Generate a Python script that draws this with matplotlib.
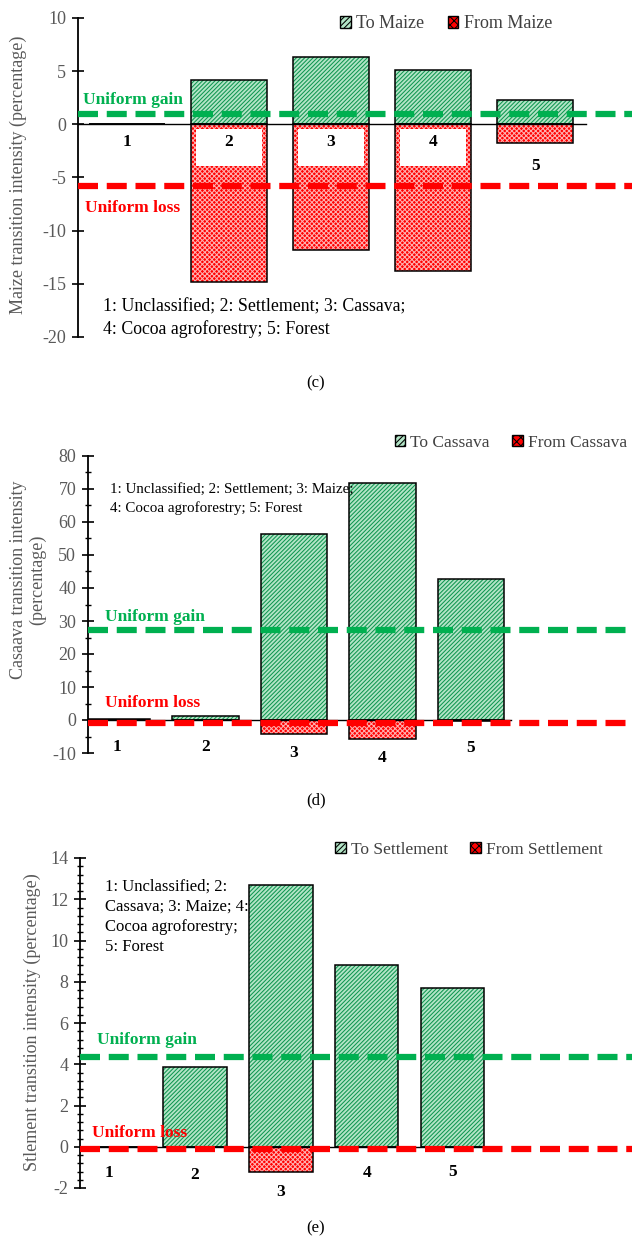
import matplotlib
matplotlib.use("Agg")
import matplotlib.pyplot as plt
from matplotlib.patches import Patch
import numpy as np

plt.rcParams['font.family'] = ['Liberation Serif', 'DejaVu Serif']
plt.rcParams['hatch.linewidth'] = 0.75

# ---------------- data ----------------
categories = ["1", "2", "3", "4", "5"]

maize_to = [0, 4.2, 6.3, 5.1, 2.3]
maize_from = [0, -14.8, -11.8, -13.8, -1.8]
maize_gain = 1.0
maize_loss = -5.8

cassava_to = [0.2, 1.3, 56.5, 71.8, 42.8]
cassava_from = [0, 0, -4.2, -5.8, -0.4]
cassava_gain = 27.4
cassava_loss = -1.0

settle_to = [0, 3.85, 12.7, 8.8, 7.7]
settle_from = [0, 0, -1.2, 0, 0]
settle_gain = 4.35
settle_loss = -0.1

c_ticks = [-20, -15, -10, -5, 0, 5, 10]
d_ticks = [-10, 0, 10, 20, 30, 40, 50, 60, 70, 80]
e_ticks = [-2, 0, 2, 4, 6, 8, 10, 12, 14]

# ---------------- style ----------------
W, H = 632, 1241
GREEN_FACE = '#b3e5c7'
GREEN_HATCH = '#0f9650'
RED_FACE = '#ff0000'
RED_HATCH = '#ffb0b0'
LINE_GREEN = '#00b050'
LINE_RED = '#ff0000'
GRAY = '#595959'
G_HATCH = '////////'
R_HATCH = 'xxxxxxx'

fig = plt.figure(figsize=(W / 100, H / 100), dpi=100)


def add_ax(l, r, t, b):
    return fig.add_axes([l / W, 1 - b / H, (r - l) / W, (b - t) / H])


def fx(px):
    return px / W


def fy(py):
    return 1 - py / H


def hatched_bars(ax, x, vals, width, face, hatch_col, hatch):
    ax.bar(x, vals, width=width, color=face, edgecolor=hatch_col, hatch=hatch,
           linewidth=0, zorder=2)
    ax.bar(x, vals, width=width, facecolor='none', edgecolor='black',
           linewidth=1.1, zorder=4)


def panel(ax, to_vals, from_vals, gain, loss, xlim, ylim, ticks, minor,
          width, zero_end, lab_y, boxes=None):
    x = np.arange(1, len(categories) + 1)
    hatched_bars(ax, x, to_vals, width, GREEN_FACE, GREEN_HATCH, G_HATCH)
    hatched_bars(ax, x, from_vals, width, RED_FACE, RED_HATCH, R_HATCH)
    if boxes is not None:
        bx, btop, bh, bw = boxes
        ax.bar(bx, bh, bottom=btop, width=bw, color='white', linewidth=0, zorder=5)
    ax.plot([xlim[0], zero_end], [0, 0], color='black', lw=1.0, zorder=3)
    ax.axhline(gain, color=LINE_GREEN, lw=4.5, ls=(0, (3.2, 1.4)), zorder=6)
    ax.axhline(loss, color=LINE_RED, lw=4.5, ls=(0, (3.2, 1.4)), zorder=6)
    for xi, c, ly in zip(x, categories, lab_y):
        ax.text(xi, ly, c, ha='center', va='center', fontsize=12.5,
                fontweight='bold', zorder=7)
    ax.set_xlim(*xlim)
    ax.set_ylim(*ylim)
    ax.set_yticks(ticks)
    ax.set_yticklabels([str(t) for t in ticks])
    if minor:
        ax.set_yticks(np.arange(ylim[0], ylim[1] + 1e-9, minor), minor=True)
        ax.tick_params(axis='y', which='minor', direction='inout', length=5,
                       width=1.0)
    ax.tick_params(axis='y', which='major', direction='inout', length=9,
                   width=1.2, labelsize=13, labelcolor=GRAY, pad=4)
    ax.set_xticks([])
    for s in ['top', 'right', 'bottom']:
        ax.spines[s].set_visible(False)
    ax.spines['left'].set_linewidth(1.3)
    ax.patch.set_alpha(0)


def legend(handles_labels, cx, cy, fs=13):
    hs = [Patch(facecolor=GREEN_FACE, edgecolor='black', hatch='//////'),
          Patch(facecolor=RED_FACE, edgecolor='black', hatch='xxxx')]
    leg = fig.legend(hs, handles_labels, loc='center',
                     bbox_to_anchor=(fx(cx), fy(cy)), ncol=2, frameon=False,
                     handlelength=0.6, handleheight=0.6, handletextpad=0.3,
                     columnspacing=1.3, fontsize=fs)
    for t in leg.get_texts():
        t.set_color('#404040')


# ---------------- panel (c) ----------------
axc = add_ax(78, 632, 18, 337)
panel(axc, maize_to, maize_from, maize_gain, maize_loss,
      xlim=(0.52, 5.95), ylim=(-20, 10), ticks=c_ticks, minor=None,
      width=0.74, zero_end=5.5,
      lab_y=[-1.7, -1.7, -1.7, -1.7, -3.9],
      boxes=([2, 3, 4], -0.4, -3.5, 0.64))
legend(['To Maize', 'From Maize'], 446, 24)
fig.text(fx(83), fy(100), 'Uniform gain', color=LINE_GREEN, fontsize=12.5,
         fontweight='bold', va='center', ha='left')
fig.text(fx(85), fy(208), 'Uniform loss', color=LINE_RED, fontsize=12.5,
         fontweight='bold', va='center', ha='left')
fig.text(fx(103), fy(318), '1: Unclassified; 2: Settlement; 3: Cassava;\n'
         '4: Cocoa agroforestry; 5: Forest', fontsize=12.8, va='center',
         ha='left', linespacing=1.3)
fig.text(fx(18), fy(175), 'Maize transition intensity (percentage)',
         rotation=90, color=GRAY, fontsize=13, ha='center', va='center')
fig.text(fx(316), fy(383), '(c)', fontsize=12, ha='center', va='center')

# ---------------- panel (d) ----------------
axd = add_ax(88, 632, 456, 753)
panel(axd, cassava_to, cassava_from, cassava_gain, cassava_loss,
      xlim=(0.67, 6.82), ylim=(-10, 80), ticks=d_ticks, minor=5,
      width=0.75, zero_end=5.45,
      lab_y=[-8.2, -8.2, -10.0, -11.5, -8.5])
legend(['To Cassava', 'From Cassava'], 511, 443, fs=12.5)
fig.text(fx(105), fy(617), 'Uniform gain', color=LINE_GREEN, fontsize=12.5,
         fontweight='bold', va='center', ha='left')
fig.text(fx(105), fy(703), 'Uniform loss', color=LINE_RED, fontsize=12.5,
         fontweight='bold', va='center', ha='left')
fig.text(fx(110), fy(499), '1: Unclassified; 2: Settlement; 3: Maize;\n'
         '4: Cocoa agroforestry; 5: Forest', fontsize=10.8, va='center',
         ha='left', linespacing=1.45)
fig.text(fx(28), fy(580), 'Casaava transition intensity\n(percentage)',
         rotation=90, color=GRAY, fontsize=13, ha='center', va='center',
         multialignment='center')
fig.text(fx(316), fy(800), '(d)', fontsize=12, ha='center', va='center')

# ---------------- panel (e) ----------------
axe = add_ax(80, 632, 858, 1188)
panel(axe, settle_to, settle_from, settle_gain, settle_loss,
      xlim=(0.66, 7.09), ylim=(-2, 14), ticks=e_ticks, minor=0.4,
      width=0.74, zero_end=5.45,
      lab_y=[-1.26, -1.36, -2.2, -1.26, -1.2])
legend(['To Settlement', 'From Settlement'], 469, 850, fs=12.5)
fig.text(fx(97), fy(1040), 'Uniform gain', color=LINE_GREEN, fontsize=12.5,
         fontweight='bold', va='center', ha='left')
fig.text(fx(92), fy(1133), 'Uniform loss', color=LINE_RED, fontsize=12.5,
         fontweight='bold', va='center', ha='left')
fig.text(fx(105), fy(917), '1: Unclassified; 2:\nCassava; 3: Maize; 4:\n'
         'Cocoa agroforestry;\n5: Forest', fontsize=12, va='center',
         ha='left', linespacing=1.35)
fig.text(fx(32), fy(1022), 'Stlement transition intensity (percentage)',
         rotation=90, color=GRAY, fontsize=13, ha='center', va='center')
fig.text(fx(316), fy(1228), '(e)', fontsize=12, ha='center', va='center')

fig.savefig('out.png', dpi=100)
